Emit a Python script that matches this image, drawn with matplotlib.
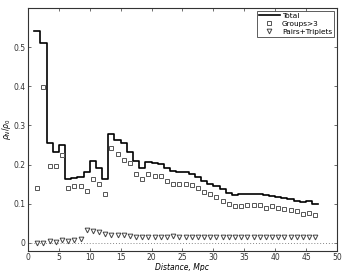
import numpy as np
import matplotlib
matplotlib.use("Agg")
import matplotlib.pyplot as plt

# bin edges (Mpc)
edges = list(range(1, 48))
centers = [e + 0.5 for e in range(1, 47)]

total = [0.540, 0.510, 0.254, 0.231, 0.251, 0.163, 0.165, 0.168, 0.181, 0.208,
         0.191, 0.164, 0.279, 0.264, 0.254, 0.232, 0.209, 0.192, 0.207, 0.203,
         0.202, 0.192, 0.183, 0.182, 0.180, 0.175, 0.168, 0.158, 0.151, 0.145,
         0.137, 0.127, 0.122, 0.126, 0.126, 0.125, 0.124, 0.121, 0.120, 0.117,
         0.115, 0.111, 0.108, 0.104, 0.106, 0.100]

groups = [0.140, 0.398, 0.196, 0.196, 0.224, 0.140, 0.145, 0.145, 0.133, 0.164,
          0.150, 0.126, 0.243, 0.228, 0.211, 0.203, 0.177, 0.162, 0.175, 0.171,
          0.171, 0.158, 0.150, 0.150, 0.150, 0.148, 0.140, 0.131, 0.125, 0.117,
          0.108, 0.100, 0.093, 0.093, 0.097, 0.097, 0.097, 0.090, 0.093, 0.089,
          0.087, 0.084, 0.082, 0.074, 0.076, 0.070]

pairs = [0.000, 0.000, 0.004, 0.003, 0.008, 0.005, 0.006, 0.011, 0.034, 0.029,
         0.027, 0.023, 0.021, 0.020, 0.019, 0.018, 0.016, 0.016, 0.015, 0.015,
         0.015, 0.016, 0.017, 0.016, 0.015, 0.015, 0.015, 0.015, 0.015, 0.015,
         0.015, 0.015, 0.015, 0.015, 0.015, 0.015, 0.015, 0.015, 0.015, 0.015,
         0.015, 0.015, 0.015, 0.015, 0.015, 0.015]

xticks = [0, 5, 10, 15, 20, 25, 30, 35, 40, 45, 50]
yticks = [0, 0.1, 0.2, 0.3, 0.4, 0.5]

plt.rcParams['font.family'] = ['DejaVu Sans']
fig = plt.figure(figsize=(3.44, 2.71), dpi=100)
ax = fig.add_axes([0.0814, 0.075, 0.898, 0.8955])

ax.plot([0, 50], [0, 0], linestyle=(0, (1, 2)), color='#888888', lw=0.7)
ax.step(edges, total + [total[-1]], where='post', color='black', lw=1.2,
        label='Total')
ax.plot(centers, groups, linestyle='none', marker='s', markersize=3.0,
        markerfacecolor='white', markeredgecolor='#555555', markeredgewidth=0.7,
        label='Groups>3')
ax.plot(centers, pairs, linestyle='none', marker='v', markersize=3.4,
        markerfacecolor='white', markeredgecolor='#444444', markeredgewidth=0.7,
        label='Pairs+Triplets')

ax.set_xlim(0, 50)
ax.set_ylim(-0.02, 0.6)
ax.set_xticks(xticks)
ax.set_yticks(yticks)
ax.set_xticklabels([str(t) for t in xticks])
ax.set_yticklabels(['0', '0.1', '0.2', '0.3', '0.4', '0.5'])
ax.tick_params(direction='in', length=2.5, width=0.5, labelsize=5.5,
               top=True, right=True, colors='#333333', pad=2)
for s in ax.spines.values():
    s.set_linewidth(0.8)
    s.set_color('#333333')

ax.set_xlabel('Distance, Mpc', fontsize=5.5, style='italic')
ax.xaxis.set_label_coords(0.5, -0.05)
ax.set_ylabel(r'$\rho_N/\rho_0$', fontsize=5.5)
ax.yaxis.set_label_coords(-0.05, 0.5)

leg = ax.legend(loc='upper right', fontsize=5.3, frameon=True, fancybox=False,
                edgecolor='#333333', handlelength=2.8, borderpad=0.3,
                labelspacing=0.25, handletextpad=0.3, borderaxespad=0.35)
leg.get_frame().set_linewidth(0.7)

fig.savefig('out.png', dpi=100)
